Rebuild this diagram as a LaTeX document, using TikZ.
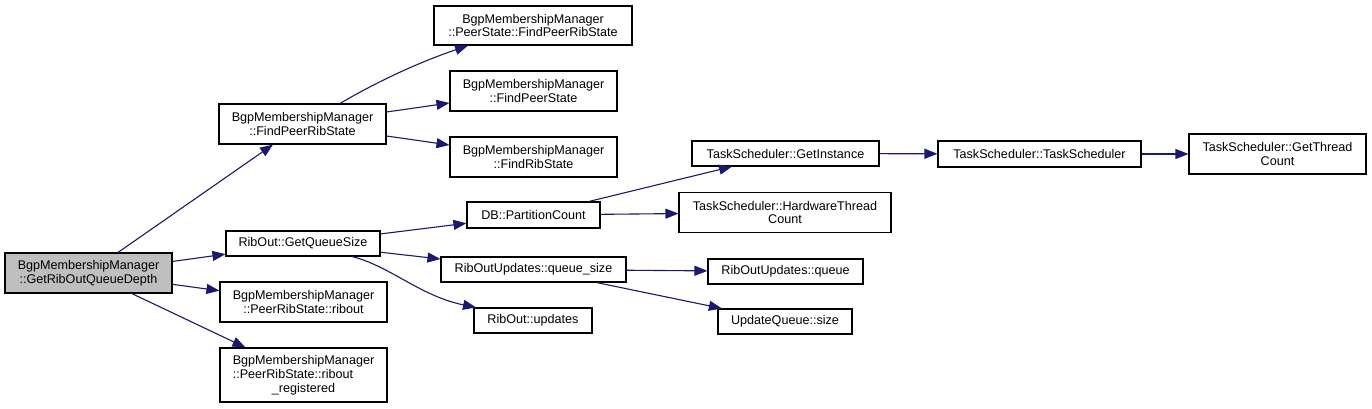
\documentclass[tikz,border=0pt]{standalone}
\usepackage{fontspec}
\setmainfont{Liberation Sans}
\usetikzlibrary{arrows.meta,calc}
\definecolor{edgecol}{RGB}{25,25,112}
\definecolor{rootfill}{RGB}{191,191,191}
\tikzset{
  fn/.style={draw=black, line width=1.1pt, fill=white, inner sep=0pt, align=center,
    font=\fontsize{12.6}{13.8}\selectfont, anchor=center},
  rootfn/.style={fn, fill=rootfill},
  call/.style={draw=edgecol, line width=1.1pt, -{Triangle[length=13pt,width=10pt]}},
}
\begin{document}
\begin{tikzpicture}[x=1pt,y=-1pt]
\useasboundingbox (0,0) rectangle (1372,409);
\fill[white] (0,0) rectangle (1372,409);
% nodes
\node[rootfn, minimum width=167pt, minimum height=40pt] (q) at (88.5,273) {BgpMembershipManager\\::GetRibOutQueueDepth};
\node[fn, minimum width=167pt, minimum height=40pt] (fprs) at (302.5,124) {BgpMembershipManager\\::FindPeerRibState};
\node[fn, minimum width=198pt, minimum height=39pt] (psfprs) at (533,25.5) {BgpMembershipManager\\::PeerState::FindPeerRibState};
\node[fn, minimum width=167pt, minimum height=40pt] (fps) at (533.5,91) {BgpMembershipManager\\::FindPeerState};
\node[fn, minimum width=167pt, minimum height=40pt] (frs) at (533.5,157) {BgpMembershipManager\\::FindRibState};
\node[fn, minimum width=154pt, minimum height=25pt] (gqs) at (303,243.5) {RibOut::GetQueueSize};
\node[fn, minimum width=167pt, minimum height=40pt] (ribout) at (303.5,302) {BgpMembershipManager\\::PeerRibState::ribout};
\node[fn, minimum width=167pt, minimum height=54pt] (reg) at (303.5,375) {BgpMembershipManager\\\setbox0\hbox{BgpMembershipManager}\makebox[\wd0][l]{::PeerRibState::ribout}\\\_registered};
\node[fn, minimum width=133pt, minimum height=26pt] (pc) at (533.5,215) {DB::PartitionCount};
\node[fn, minimum width=185pt, minimum height=25pt] (qs) at (533.5,269.5) {RibOutUpdates::queue\_size};
\node[fn, minimum width=118pt, minimum height=25pt] (upd) at (533,320.5) {RibOut::updates};
\node[fn, minimum width=187pt, minimum height=25pt] (gi) at (785.5,153.5) {TaskScheduler::GetInstance};
\node[fn, minimum width=212pt, minimum height=40pt] (hw) at (785,212.5) {TaskScheduler::HardwareThread\\Count};
\node[fn, minimum width=155pt, minimum height=25pt] (rq) at (785.5,271.5) {RibOutUpdates::queue};
\node[fn, minimum width=134pt, minimum height=25pt] (us) at (785,321.5) {UpdateQueue::size};
\node[fn, minimum width=203pt, minimum height=26pt] (ts) at (1039.5,154) {TaskScheduler::TaskScheduler};
\node[fn, minimum width=177pt, minimum height=40pt] (gtc) at (1277.5,154) {TaskScheduler::GetThread\\Count};
% edges
\draw[call] (q) -- (fprs);
\draw[call] (q) -- (gqs);
\draw[call] (q) -- (ribout);
\draw[call] (q) -- (reg);
\draw[call] ($(fprs.north)+(37.5,0)$) .. controls (380,80) and (420,62) .. ($(psfprs.south)+(-65,0)$);
\draw[call] (fprs) -- (fps);
\draw[call] (fprs) -- (frs);
\draw[call] (gqs) -- (pc);
\draw[call] (gqs) -- (qs);
\draw[call] ($(gqs.south)+(49,0)$) .. controls (390,266) and (420,296) .. ($(upd.north)+(-57,0)$);
\draw[call] (pc) -- (gi);
\draw[call] (pc) -- (hw);
\draw[call] (qs) -- (rq);
\draw[call] (qs) -- (us);
\draw[call] (gi) -- (ts);
\draw[call] (ts) -- (gtc);
\end{tikzpicture}
\end{document}
